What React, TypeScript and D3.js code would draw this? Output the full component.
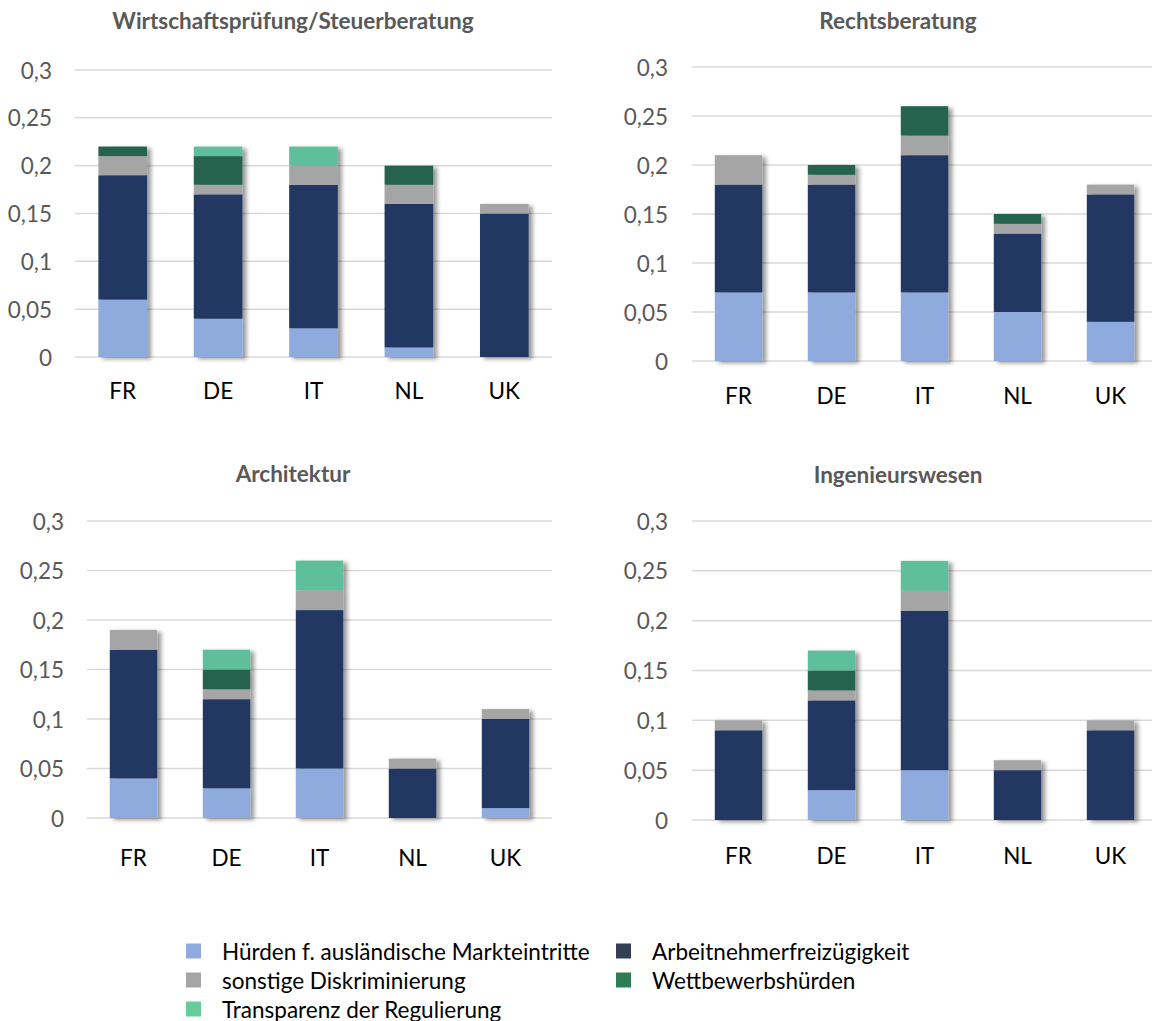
import React from 'react';
import * as d3 from 'd3';

// countries on the x axis, same for every panel
const countries = ['FR', 'DE', 'IT', 'NL', 'UK'];

const seriesNames = [
  'Hürden f. ausländische Markteintritte',
  'Arbeitnehmerfreizügigkeit',
  'sonstige Diskriminierung',
  'Wettbewerbshürden',
  'Transparenz der Regulierung',
];
const barColors = ['#8faadc', '#203864', '#a5a5a5', '#276350', '#5fbf9c'];
const legendColors = ['#8faadc', '#333f55', '#a5a5a5', '#2e7d57', '#66cc99'];

const yTicks = [0, 0.05, 0.1, 0.15, 0.2, 0.25, 0.3];

// Wirtschaftsprüfung/Steuerberatung
const wpHuerden = [0.06, 0.04, 0.03, 0.01, 0];
const wpArbeit = [0.13, 0.13, 0.15, 0.15, 0.15];
const wpSonstige = [0.02, 0.01, 0.02, 0.02, 0.01];
const wpWettbewerb = [0.01, 0.03, 0, 0.02, 0];
const wpTransparenz = [0, 0.01, 0.02, 0, 0];

// Rechtsberatung
const rbHuerden = [0.07, 0.07, 0.07, 0.05, 0.04];
const rbArbeit = [0.11, 0.11, 0.14, 0.08, 0.13];
const rbSonstige = [0.03, 0.01, 0.02, 0.01, 0.01];
const rbWettbewerb = [0, 0.01, 0.03, 0.01, 0];
const rbTransparenz = [0, 0, 0, 0, 0];

// Architektur
const arHuerden = [0.04, 0.03, 0.05, 0, 0.01];
const arArbeit = [0.13, 0.09, 0.16, 0.05, 0.09];
const arSonstige = [0.02, 0.01, 0.02, 0.01, 0.01];
const arWettbewerb = [0, 0.02, 0, 0, 0];
const arTransparenz = [0, 0.02, 0.03, 0, 0];

// Ingenieurswesen
const inHuerden = [0, 0.03, 0.05, 0, 0];
const inArbeit = [0.09, 0.09, 0.16, 0.05, 0.09];
const inSonstige = [0.01, 0.01, 0.02, 0.01, 0.01];
const inWettbewerb = [0, 0.02, 0, 0, 0];
const inTransparenz = [0, 0.02, 0.03, 0, 0];

const FONT = 'Lato, "Open Sans", sans-serif';

interface PanelSpec {
  title: string;
  series: number[][];
  x0: number;
  x1: number;
  yTop: number;
  yBottom: number;
  titleX: number;
  titleY: number;
  labelRight: number;
  xLabelY: number;
}

const panels: PanelSpec[] = [
  {
    title: 'Wirtschaftsprüfung/Steuerberatung',
    series: [wpHuerden, wpArbeit, wpSonstige, wpWettbewerb, wpTransparenz],
    x0: 75, x1: 552, yTop: 70, yBottom: 357,
    titleX: 293, titleY: 20, labelRight: 52, xLabelY: 390,
  },
  {
    title: 'Rechtsberatung',
    series: [rbHuerden, rbArbeit, rbSonstige, rbWettbewerb, rbTransparenz],
    x0: 692, x1: 1157, yTop: 67, yBottom: 361,
    titleX: 898, titleY: 20, labelRight: 668, xLabelY: 395,
  },
  {
    title: 'Architektur',
    series: [arHuerden, arArbeit, arSonstige, arWettbewerb, arTransparenz],
    x0: 87, x1: 552, yTop: 521, yBottom: 818,
    titleX: 293, titleY: 473, labelRight: 64, xLabelY: 857,
  },
  {
    title: 'Ingenieurswesen',
    series: [inHuerden, inArbeit, inSonstige, inWettbewerb, inTransparenz],
    x0: 692, x1: 1157, yTop: 521, yBottom: 820,
    titleX: 898, titleY: 474, labelRight: 668, xLabelY: 855,
  },
];

const fmt = (v: number) => String(+v.toFixed(2)).replace('.', ',');

const Panel: React.FC<{ spec: PanelSpec }> = ({ spec }) => {
  const x = d3.scaleBand<string>().domain(countries).range([spec.x0, spec.x1]).paddingInner(0.49).paddingOuter(0.245);
  const y = d3.scaleLinear().domain([0, 0.3]).range([spec.yBottom, spec.yTop]);

  const rows = countries.map((c, i) => {
    const row: Record<string, number | string> = { country: c };
    seriesNames.forEach((s, k) => (row[s] = spec.series[k][i]));
    return row;
  });
  const stacked = d3.stack<Record<string, number | string>>()
    .keys(seriesNames)
    .value((d, key) => d[key] as number)(rows);

  return (
    <g>
      <text x={spec.titleX} y={spec.titleY} textAnchor="middle" dominantBaseline="central"
        fontFamily={FONT} fontWeight="bold" fontSize={22.5} fill="#595959">
        {spec.title}
      </text>
      {yTicks.map(t => (
        <g key={t}>
          <line x1={spec.x0} x2={spec.x1} y1={y(t)} y2={y(t)} stroke="#d9d9d9" strokeWidth={1.5} />
          <text x={spec.labelRight} y={y(t)} textAnchor="end" dominantBaseline="central"
            fontFamily={FONT} fontSize={22.5} fill="#595959">
            {fmt(t)}
          </text>
        </g>
      ))}
      {countries.map((c, i) => (
        <g key={c} filter="url(#barShadow)">
          {stacked.map((layer, k) => {
            const d = layer[i];
            const h = y(d[0]) - y(d[1]);
            if (h <= 0.01) return null;
            return (
              <rect key={k} x={x(c)} width={x.bandwidth()} y={y(d[1])} height={h} fill={barColors[k]} />
            );
          })}
        </g>
      ))}
      {countries.map(c => (
        <text key={c} x={(x(c) ?? 0) + x.bandwidth() / 2} y={spec.xLabelY} textAnchor="middle"
          dominantBaseline="central" fontFamily={FONT} fontSize={22.5} fill="#000">
          {c}
        </text>
      ))}
    </g>
  );
};

// legend layout: two columns, rows filled left to right
const legendCols = [186, 616];
const legendRows = [951, 980, 1009];

const Legend: React.FC = () => (
  <g>
    {seriesNames.map((s, k) => {
      const cx = legendCols[k % 2];
      const cy = legendRows[Math.floor(k / 2)];
      return (
        <g key={s}>
          <rect x={cx} y={cy - 7.5} width={15} height={15} fill={legendColors[k]} />
          <text x={cx + 36} y={cy} dominantBaseline="central" fontFamily={FONT} fontSize={22.5} fill="#000">
            {s}
          </text>
        </g>
      );
    })}
  </g>
);

export default function App() {
  return (
    <svg width={1152} height={1021} style={{ position: 'absolute', left: 0, top: 0, background: '#fff' }}>
      <defs>
        <filter id="barShadow" x="-20%" y="-5%" width="150%" height="115%">
          <feDropShadow dx={4} dy={2} stdDeviation={2.2} floodColor="#000" floodOpacity={0.4} />
        </filter>
      </defs>
      <rect width={1152} height={1021} fill="#fff" />
      {panels.map(p => (
        <Panel key={p.title} spec={p} />
      ))}
      <Legend />
    </svg>
  );
}
